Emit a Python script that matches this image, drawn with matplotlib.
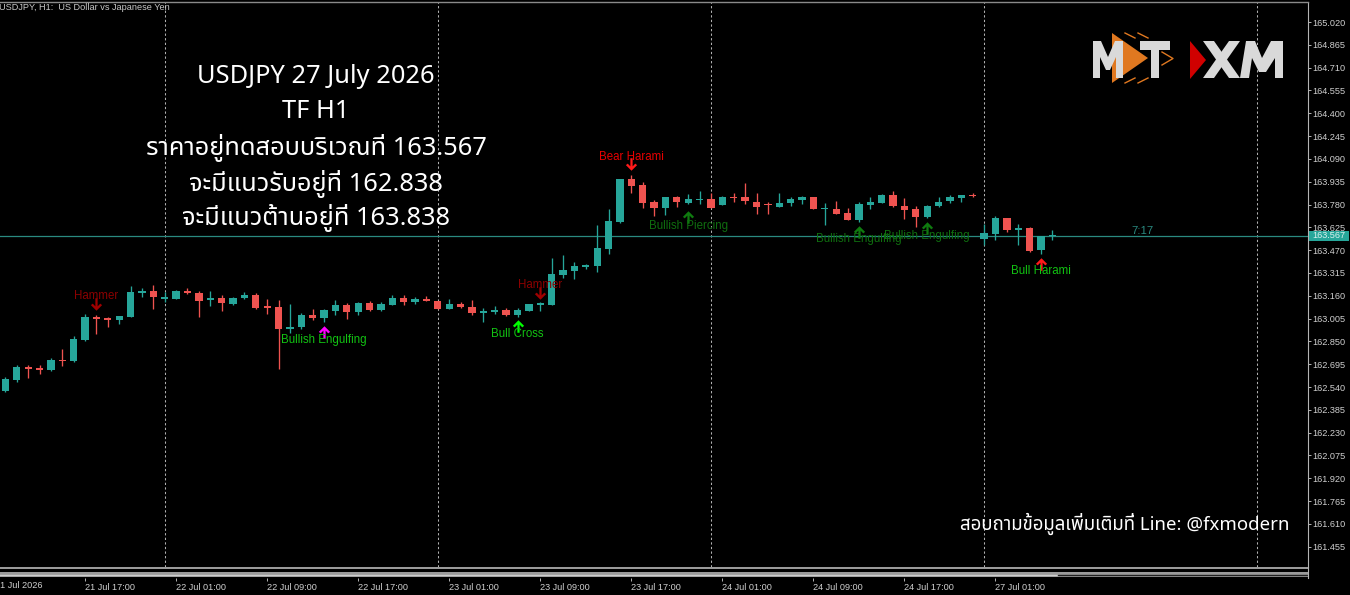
import numpy as np
import matplotlib
matplotlib.use('Agg')
import matplotlib.pyplot as plt
from matplotlib import font_manager as fm
from matplotlib.ft2font import FT2Font
from matplotlib.path import Path
from matplotlib.patches import Polygon, Rectangle
from matplotlib.transforms import blended_transform_factory

# ---------------- data (USDJPY H1, bars from 21 Jul 10:00 to 27 Jul 06:00) ----------------
opens = [162.515, 162.590, 162.678, 162.667, 162.656, 162.724, 162.715, 162.857, 163.013, 163.007,
         162.995, 163.018, 163.176, 163.195, 163.140, 163.140, 163.195, 163.181, 163.129, 163.143,
         163.106, 163.147, 163.165, 163.088, 163.081, 162.934, 162.946, 163.027, 163.009, 163.059,
         163.095, 163.050, 163.111, 163.066, 163.100, 163.147, 163.115, 163.138, 163.122, 163.072,
         163.106, 163.081, 163.045, 163.052, 163.061, 163.031, 163.059, 163.100, 163.100, 163.303,
         163.330, 163.358, 163.362, 163.480, 163.661, 163.951, 163.910, 163.797, 163.756, 163.829,
         163.788, 163.811, 163.815, 163.779, 163.833, 163.829, 163.799, 163.783, 163.765, 163.788,
         163.813, 163.829, 163.750, 163.752, 163.720, 163.675, 163.779, 163.793, 163.845, 163.768,
         163.747, 163.697, 163.770, 163.802, 163.827, 163.847, 163.546, 163.580, 163.686, 163.609,
         163.623, 163.469, 163.566]
highs = [162.610, 162.687, 162.687, 162.690, 162.739, 162.796, 162.887, 163.034, 163.029, 163.018,
         163.024, 163.226, 163.210, 163.231, 163.186, 163.199, 163.215, 163.195, 163.195, 163.165,
         163.154, 163.186, 163.176, 163.136, 163.131, 163.106, 163.043, 163.070, 163.072, 163.131,
         163.109, 163.115, 163.122, 163.118, 163.167, 163.163, 163.152, 163.158, 163.124, 163.136,
         163.115, 163.131, 163.079, 163.093, 163.075, 163.075, 163.104, 163.115, 163.417, 163.435,
         163.389, 163.378, 163.641, 163.747, 163.953, 163.983, 163.935, 163.811, 163.833, 163.838,
         163.851, 163.870, 163.856, 163.838, 163.856, 163.928, 163.856, 163.795, 163.858, 163.833,
         163.840, 163.833, 163.791, 163.802, 163.756, 163.795, 163.829, 163.851, 163.870, 163.827,
         163.772, 163.777, 163.829, 163.842, 163.847, 163.860, 163.648, 163.702, 163.688, 163.648,
         163.625, 163.568, 163.607]
lows = [162.506, 162.576, 162.599, 162.631, 162.651, 162.683, 162.712, 162.850, 162.902, 162.950,
        162.966, 163.016, 163.149, 163.068, 163.115, 163.138, 163.172, 163.013, 163.093, 163.059,
        163.100, 163.140, 163.072, 163.038, 162.660, 162.905, 162.932, 162.995, 162.982, 163.029,
        163.000, 163.029, 163.059, 163.054, 163.095, 163.097, 163.106, 163.122, 163.070, 163.068,
        163.079, 163.029, 162.984, 163.036, 163.022, 163.018, 163.056, 163.056, 163.097, 163.278,
        163.276, 163.340, 163.319, 163.446, 163.652, 163.860, 163.759, 163.704, 163.707, 163.765,
        163.781, 163.786, 163.754, 163.774, 163.795, 163.784, 163.713, 163.718, 163.761, 163.772,
        163.781, 163.747, 163.639, 163.713, 163.675, 163.661, 163.750, 163.788, 163.765, 163.682,
        163.630, 163.691, 163.765, 163.788, 163.797, 163.829, 163.505, 163.539, 163.596, 163.505,
        163.460, 163.444, 163.539]
closes = [162.592, 162.678, 162.660, 162.658, 162.724, 162.717, 162.864, 163.013, 163.004, 162.995,
          163.022, 163.183, 163.195, 163.154, 163.149, 163.195, 163.176, 163.127, 163.143, 163.109,
          163.147, 163.165, 163.079, 163.079, 162.932, 162.950, 163.027, 163.009, 163.066, 163.095,
          163.047, 163.111, 163.066, 163.104, 163.147, 163.115, 163.138, 163.127, 163.072, 163.106,
          163.081, 163.045, 163.059, 163.063, 163.029, 163.061, 163.102, 163.106, 163.308, 163.335,
          163.362, 163.367, 163.482, 163.666, 163.951, 163.908, 163.793, 163.759, 163.829, 163.795,
          163.815, 163.815, 163.759, 163.833, 163.824, 163.804, 163.765, 163.777, 163.793, 163.815,
          163.829, 163.750, 163.756, 163.718, 163.677, 163.781, 163.797, 163.845, 163.770, 163.745,
          163.697, 163.772, 163.799, 163.833, 163.845, 163.840, 163.584, 163.686, 163.609, 163.620,
          163.462, 163.566, 163.567]

current_price = 163.567
price_ticks = [165.020, 164.865, 164.710, 164.555, 164.400, 164.245, 164.090, 163.935, 163.780,
               163.625, 163.470, 163.315, 163.160, 163.005, 162.850, 162.695, 162.540, 162.385,
               162.230, 162.075, 161.920, 161.765, 161.610, 161.455]
time_tick_bars = [-1, 7, 15, 23, 31, 39, 47, 55, 63, 71, 79, 87]
time_tick_labels = ['21 Jul 2026', '21 Jul 17:00', '22 Jul 01:00', '22 Jul 09:00', '22 Jul 17:00',
                    '23 Jul 01:00', '23 Jul 09:00', '23 Jul 17:00', '24 Jul 01:00', '24 Jul 09:00',
                    '24 Jul 17:00', '27 Jul 01:00']
day_separator_bars = [14, 38, 62, 86, 110]

# candlestick pattern annotations: bar, label, label price, arrow price, direction
pattern_bars = [8, 28, 45, 47, 55, 60, 75, 81, 91]
pattern_names = ['Hammer', 'Bullish Engulfing', 'Bull Cross', 'Hammer', 'Bear Harami',
                 'Bullish Piercing', 'Bullish Engulfing', 'Bullish Engulfing', 'Bull Harami']
pattern_label_prices = [163.155, 162.860, 162.897, 163.233, 164.103, 163.637, 163.546, 163.566, 163.328]
pattern_arrow_prices = [163.101, 162.914, 162.955, 163.182, 164.055, 163.692, 163.593, 163.621, 163.376]
pattern_arrow_up = [False, True, True, False, False, True, True, True, True]
pattern_text_colors = ['#8b0000', '#12c212', '#12c212', '#8b0000', '#e80000', '#0f6e0f', '#0f6e0f', '#0f6e0f', '#12c212']
pattern_arrow_colors = ['#a00000', '#ff00ff', '#00ff00', '#a00000', '#ff1a1a', '#0f7a0f', '#0f7a0f', '#0f7a0f', '#ff1a1a']

title_lines = ['USDJPY 27 July 2026', 'TF H1', 'ราคาอยู่ทดสอบบริเวณที่ 163.567',
               'จะมีแนวรับอยู่ที่ 162.838', 'จะมีแนวต้านอยู่ที่ 163.838']
contact_text = 'สอบถามข้อมูลเพิ่มเติมที่ Line: @fxmodern'
symbol_text = 'USDJPY, H1:  US Dollar vs Japanese Yen'
timer_text = '7:17'

# ---------------- fonts ----------------
def find_thai_font():
    prefs = ['Noto Sans Thai', 'Noto Sans Thai Looped', 'Noto Sans Thai UI', 'Sarabun', 'Garuda',
             'Loma', 'Waree', 'Umpush', 'Kinnari', 'Norasi', 'Tlwg Typo', 'Laksaman']
    found = {}
    for f in fm.fontManager.ttflist:
        if f.name in found:
            continue
        try:
            cm = FT2Font(f.fname).get_charmap()
        except Exception:
            continue
        if 0x0E01 in cm and 0x0E32 in cm:
            found[f.name] = f.fname
    for p in prefs:
        if p in found:
            return p
    return next(iter(found), None)

thai = find_thai_font()
big_family = ['Noto Sans'] + ([thai] if thai else []) + ['DejaVu Sans']
ui_font = 'Liberation Sans'

# ---------------- figure ----------------
W, H = 1350, 595
fig = plt.figure(figsize=(W / 100, H / 100), dpi=100, facecolor='black')

AX_TOP, AX_BOT, AX_RIGHT = 2.0, 567.3, 1308.0
ax = fig.add_axes([0, (H - AX_BOT) / H, AX_RIGHT / W, (AX_BOT - AX_TOP) / H])
ax.set_facecolor('black')
ax.set_xlim(-0.4745, 114.46)
ax.set_ylim(161.315, 165.156)

for s in ['left', 'bottom']:
    ax.spines[s].set_visible(False)
ax.spines['top'].set_color('#8a8a8a')
ax.spines['top'].set_linewidth(1.0)
ax.spines['right'].set_color('#b4b4b4')
ax.spines['right'].set_linewidth(0.8)

ax.yaxis.tick_right()
ax.set_yticks(price_ticks)
ax.set_yticklabels(['%.3f' % v for v in price_ticks])
ax.tick_params(axis='y', direction='out', length=2.2, width=0.7, color='#b4b4b4', pad=1.2,
               labelsize=6.6, labelcolor='#cfcfcf')
for lab in ax.get_yticklabels():
    lab.set_fontfamily(ui_font)
ax.tick_params(axis='x', bottom=False, labelbottom=False)

# day separators
for b in day_separator_bars:
    ax.axvline(b, color='#b0b0b0', lw=0.75, ls=(0, (2.2, 2.2)), zorder=1)

# bid line
ax.axhline(current_price, color='#2a8a80', lw=0.9, zorder=2)

# candles
idx = np.arange(len(opens))
o = np.array(opens); c = np.array(closes); hi = np.array(highs); lo = np.array(lows)
bull = c >= o
cols = np.where(bull, '#26a69a', '#ef5350')
ax.vlines(idx, lo, hi, colors=cols, lw=0.95, zorder=3)
body_h = np.maximum(np.abs(c - o), 0.0075)
ax.bar(idx, body_h, bottom=np.minimum(o, c), width=0.64, color=cols, linewidth=0, zorder=4)

# pattern arrows & labels
up_arrow = Path([(0, 0.5), (0.45, 0.05), (0.3, -0.07), (0.09, 0.15), (0.09, -0.5), (-0.09, -0.5),
                 (-0.09, 0.15), (-0.3, -0.07), (-0.45, 0.05), (0, 0.5)],
                [Path.MOVETO] + [Path.LINETO] * 8 + [Path.CLOSEPOLY])
down_arrow = Path([(x, -y) for x, y in up_arrow.vertices], up_arrow.codes)
for b, name, lp, ap, up, tc, acol in zip(pattern_bars, pattern_names, pattern_label_prices,
                                         pattern_arrow_prices, pattern_arrow_up,
                                         pattern_text_colors, pattern_arrow_colors):
    ax.plot([b], [ap], marker=up_arrow if up else down_arrow, markersize=9.0, color=acol,
            markeredgewidth=0, linestyle='none', zorder=6)
    ax.text(b, lp, name, color=tc, fontsize=8.3, family=ui_font, ha='center', va='center', zorder=7)

# ---------------- bottom band + time axis ----------------
BAND_BOT = 577.5
bax = fig.add_axes([0, (H - BAND_BOT) / H, AX_RIGHT / W, (BAND_BOT - AX_BOT) / H], sharex=ax)
bax.set_facecolor('black')
bax.set_ylim(0, BAND_BOT - AX_BOT)
for s in ['left', 'top', 'bottom']:
    bax.spines[s].set_visible(False)
bax.spines['right'].set_color('#b4b4b4')
bax.spines['right'].set_linewidth(0.8)
bax.set_yticks([])
bax.axhspan(8.5, 10.2, color='#9a9a9a', lw=0)
bax.axhspan(0.2, 5.5, color='#9a9a9a', lw=0)
bax.plot([-0.5, 92.5], [2.9, 2.9], color='#cdcdcd', lw=1.0)
bax.plot([92.5, 115], [2.9, 2.9], color='#202020', lw=1.0)
bax.set_xticks(time_tick_bars[1:])
bax.set_xticklabels(time_tick_labels[1:])
bax.tick_params(axis='x', direction='out', length=2.2, width=0.7, color='#b4b4b4', pad=1.6,
                labelsize=6.6, labelcolor='#cfcfcf')
for lab in bax.get_xticklabels():
    lab.set_horizontalalignment('left')
    lab.set_fontfamily(ui_font)
trans = blended_transform_factory(bax.transData, bax.transAxes)
bax.text(time_tick_bars[0] + 0.1, -0.33, time_tick_labels[0], transform=trans, ha='left', va='top',
         fontsize=6.6, color='#cfcfcf', family=ui_font, clip_on=False)
ax.set_xlim(-0.4745, 114.46)

# ---------------- overlay (pixel coordinates) ----------------
ov = fig.add_axes([0, 0, 1, 1], zorder=10)
ov.set_xlim(0, W); ov.set_ylim(H, 0); ov.axis('off'); ov.patch.set_alpha(0)

ov.text(-1, 8, symbol_text, fontsize=6.6, family=ui_font, color='#c8c8c8', ha='left', va='center')

title_y = [76.5, 112, 147.5, 183.5, 218]
for t, y in zip(title_lines, title_y):
    ov.text(316, y, t, fontsize=18.3, family=big_family, color='white', ha='center', va='center')

ov.text(1290, 523.5, contact_text, fontsize=13.4, family=big_family, color='white', ha='right', va='center')

ov.text(1143, 231, timer_text, fontsize=8.2, family=ui_font, color='#2a8a80', ha='center', va='center')

# bid price label on the scale
ov.add_patch(Rectangle((1309, 230.5), 40, 10.5, color='#26a69a', lw=0))
ov.text(1312.5, 236, '%.3f' % current_price, fontsize=6.6, family=ui_font, color='#d9f2ef',
        ha='left', va='center')

# logo
grey = '#d9d9d9'; orange = '#e07820'; red = '#d00000'
ov.add_patch(Polygon([(1112, 33), (1112, 83), (1148, 58)], closed=True, color=orange, lw=0))
ov.add_patch(Polygon([(1093, 78), (1093, 41), (1101, 41), (1108, 57), (1115, 41), (1123, 41),
                      (1123, 78), (1116, 78), (1116, 57), (1110, 70), (1106, 70), (1100, 57),
                      (1100, 78)], closed=True, color=grey, lw=0))
ov.add_patch(Polygon([(1140, 41), (1170, 41), (1170, 50), (1159, 50), (1159, 78), (1151, 78),
                      (1151, 50), (1140, 50)], closed=True, color=grey, lw=0))
for seg in [[(1125, 33), (1135, 38)], [(1138, 33), (1148, 38)], [(1125, 83), (1135, 78)],
            [(1138, 83), (1148, 78)], [(1162, 52), (1173, 58.5), (1162, 65)]]:
    xs, ys = zip(*seg)
    ov.plot(xs, ys, color=orange, lw=1.0)
ov.add_patch(Polygon([(1190, 41), (1190, 79), (1206, 60)], closed=True, color=red, lw=0))
ov.add_patch(Polygon([(1203, 41), (1214, 41), (1240, 78), (1229, 78)], closed=True, color=grey, lw=0))
ov.add_patch(Polygon([(1229, 41), (1240, 41), (1214, 78), (1203, 78)], closed=True, color=grey, lw=0))
ov.add_patch(Polygon([(1240, 78), (1246, 41), (1255, 41), (1262, 58), (1271, 41), (1283, 41),
                      (1283, 78), (1275, 78), (1275, 58), (1266, 72), (1259, 72), (1252, 58),
                      (1249, 78)], closed=True, color=grey, lw=0))

fig.savefig('out.png', dpi=100, facecolor='black')
